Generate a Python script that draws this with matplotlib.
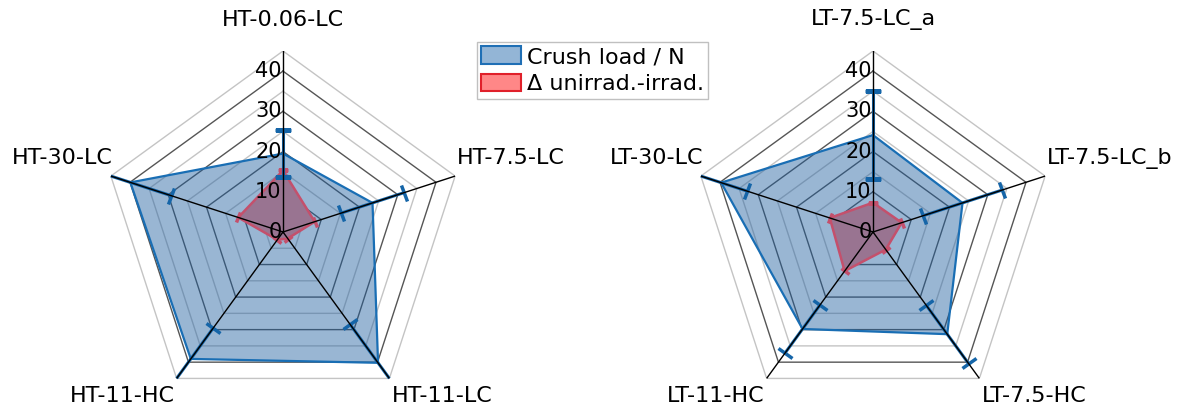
import numpy as np
import matplotlib
matplotlib.use("Agg")
import matplotlib.pyplot as plt
from matplotlib.markers import MarkerStyle
from matplotlib.transforms import Affine2D
from matplotlib.patches import Patch

plt.rcParams['font.family'] = ['DejaVu Sans']

# data
left_labels = ['HT-0.06-LC', 'HT-7.5-LC', 'HT-11-LC', 'HT-11-HC', 'HT-30-LC']
left_load = [19.5, 23.4, 40.2, 39.0, 39.9]
left_load_err = [5.8, 8.2, 11.8, 9.6, 10.6]
left_delta = [15.3, 8.3, 2.0, 2.4, 11.7]

right_labels = ['LT-7.5-LC_a', 'LT-7.5-LC_b', 'LT-7.5-HC', 'LT-11-HC', 'LT-30-LC']
right_load = [24.1, 23.4, 31.4, 29.8, 39.7]
right_load_err = [11.0, 10.2, 9.0, 7.5, 6.8]
right_delta = [7.3, 7.5, 5.4, 12.0, 11.3]

r_ticks = [0, 10, 20, 30, 40]
r_grid = [5, 10, 15, 20, 25, 30, 35, 40, 45]
r_max = 45

blue_fill = (30/255, 94/255, 159/255)
blue_line = '#196eb4'
blue_err = '#1565a8'
red_fill = '#ff8787'
red_line = '#c4506c'
fs = 16


def caps(ax, theta, r, color, size, lw, z):
    # short marks perpendicular to the spokes
    for t, rr in zip(theta, r):
        phi = 90 - np.degrees(t)
        m = MarkerStyle('_', transform=Affine2D().rotate_deg(phi + 90))
        ax.plot([t], [rr], ls='none', marker=m, ms=size, mew=lw,
                color=color, zorder=z)


def radar(ax, labels, load, load_err, delta):
    n = len(labels)
    theta = np.arange(n) * 2 * np.pi / n
    closed = np.append(theta, theta[0])

    ax.set_theta_zero_location('N')
    ax.set_theta_direction(-1)
    ax.set_rlim(0, r_max)
    ax.grid(False)
    ax.set_xticks([])
    ax.set_yticks([])
    ax.spines['polar'].set_visible(False)
    ax.patch.set_alpha(0)

    # pentagon grid
    for g in r_grid:
        col = '#555555' if g % 10 == 0 else '#c4c4c4'
        ax.plot(closed, [g] * (n + 1), color=col, lw=1, zorder=1)

    # delta polygon (below)
    dl = np.append(delta, delta[0])
    ax.fill(closed, dl, color=red_fill, lw=0, zorder=2)

    # crush load polygon
    ld = np.append(load, load[0])
    ax.fill(closed, ld, color=blue_fill, alpha=0.45, lw=0, zorder=3)
    ax.plot(closed, dl, color=red_line, lw=1.8, zorder=4)
    caps(ax, theta, delta, red_line, 7, 2.5, 4)
    ax.plot(closed, ld, color=blue_line, lw=1.6, zorder=5)

    # error bars
    ax.errorbar(theta, load, yerr=load_err, fmt='none', ecolor=blue_err,
                elinewidth=2.2, capsize=0, zorder=6)
    lo = np.array(load) - np.array(load_err)
    hi = np.array(load) + np.array(load_err)
    caps(ax, theta, lo, blue_err, 12, 2.5, 6)
    caps(ax, theta, hi, blue_err, 12, 2.5, 6)

    # spokes
    for t in theta:
        ax.plot([t, t], [0, r_max], color='black', lw=1, zorder=7)

    for v in r_ticks:
        ax.annotate(str(v), xy=(0, v), xytext=(-1, 0), textcoords='offset points',
                    ha='right', va='center', fontsize=15, zorder=8)

    offs = [((0, 22.5), 'center', 'center'),
            ((1.5, 13), 'left', 'center'),
            ((1.5, -5.5), 'left', 'top'),
            ((-1.5, -5.5), 'right', 'top'),
            ((1.5, 13), 'right', 'center')]
    for t, lab, (o, ha, va) in zip(theta, labels, offs):
        ax.annotate(lab, xy=(t, r_max), xytext=o, textcoords='offset points',
                    ha=ha, va=va, fontsize=fs, annotation_clip=False)


fig = plt.figure(figsize=(11.82, 4.07), dpi=100)
ax1 = fig.add_axes([102/1182, -6/407, 362/1182, 362/407], projection='polar')
ax2 = fig.add_axes([692/1182, -6/407, 362/1182, 362/407], projection='polar')
radar(ax1, left_labels, left_load, left_load_err, left_delta)
radar(ax2, right_labels, right_load, right_load_err, right_delta)

handles = [Patch(facecolor='#93b5d6', edgecolor='#1f6fb5', lw=1.5, label='Crush load / N'),
           Patch(facecolor=red_fill, edgecolor='#e0202a', lw=1.5, label='Δ unirrad.-irrad.')]
fig.legend(handles=handles, loc='upper left', bbox_to_anchor=(477/1182, 1 - 42/407),
           borderaxespad=0, fontsize=fs, handlelength=1.8, handleheight=0.86,
           handletextpad=0.23, labelspacing=0.29, borderpad=0.2, fancybox=False,
           framealpha=1, edgecolor='#c0c0c0')

fig.savefig('out.png', dpi=100)
